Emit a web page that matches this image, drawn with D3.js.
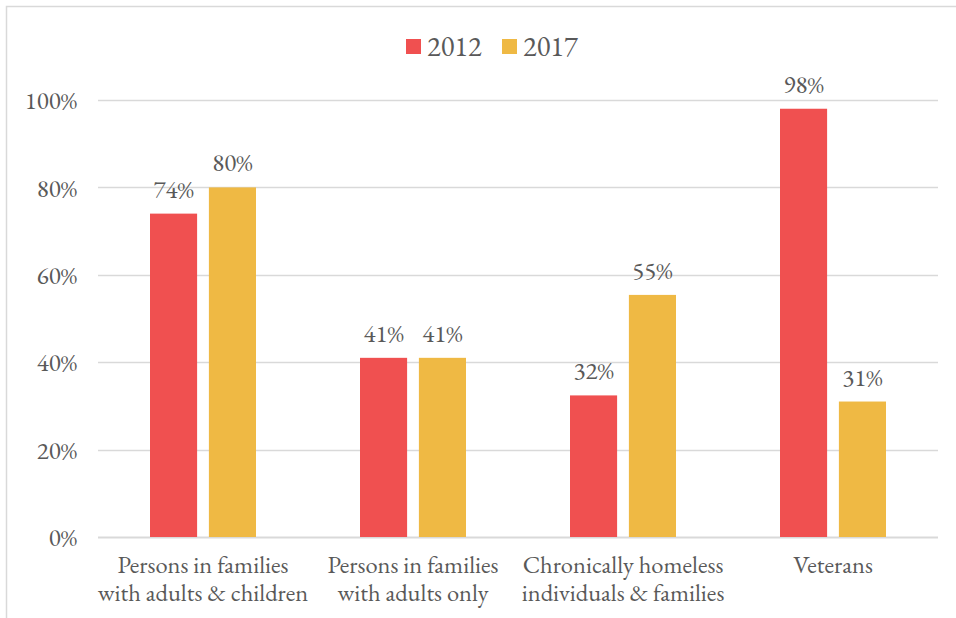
<!DOCTYPE html>
<html>
<head>
<meta charset="utf-8">
<script src="https://cdn.jsdelivr.net/npm/d3@7"></script>
<style>
  body { margin: 0; background: #fff; }
</style>
</head>
<body>
<div id="chart"></div>
<script>
var categories = [
  ["Persons in families", "with adults & children"],
  ["Persons in families", "with adults only"],
  ["Chronically homeless", "individuals & families"],
  ["Veterans"]
];
var seriesNames = ["2012", "2017"];
var values2012 = [74, 41, 32.4, 98];
var values2017 = [80, 41, 55.4, 31];
var colors = ["#f05050", "#efb944"];
var yTicks = [0, 20, 40, 60, 80, 100];

var FONT = '"EB Garamond", "Liberation Serif", serif';
var TEXT = '#595959';

var width = 956, height = 618;
var margin = { top: 100, right: 18, bottom: 81, left: 98 };
var innerW = width - margin.left - margin.right;
var innerH = height - margin.top - margin.bottom;

var svg = d3.select('#chart')
  .append('svg')
  .attr('width', width)
  .attr('height', height);

// chart border (top and left visible)
svg.append('path')
  .attr('d', 'M6.5,' + height + 'V6.5H' + width)
  .attr('fill', 'none')
  .attr('stroke', '#d9d9d9')
  .attr('stroke-width', 1.5);

var g = svg.append('g')
  .attr('transform', 'translate(' + margin.left + ',' + margin.top + ')');

var x = d3.scaleBand()
  .domain(d3.range(categories.length))
  .range([0, innerW]);

var xInner = d3.scaleBand()
  .domain(seriesNames)
  .range([x.bandwidth() / 2 - 53, x.bandwidth() / 2 + 53])
  .paddingInner(0.2);

var y = d3.scaleLinear()
  .domain([0, 100])
  .range([innerH, 0]);

// gridlines
g.selectAll('.grid')
  .data(yTicks)
  .enter().append('line')
  .attr('class', 'grid')
  .attr('x1', 0)
  .attr('x2', innerW)
  .attr('y1', function(d) { return Math.round(y(d)) + 0.5; })
  .attr('y2', function(d) { return Math.round(y(d)) + 0.5; })
  .attr('stroke', '#d9d9d9')
  .attr('stroke-width', function(d) { return d === 0 ? 2 : 1.5; });

// y axis labels
var yAxis = g.append('g')
  .call(d3.axisLeft(y).tickValues(yTicks).tickSize(0).tickPadding(21)
    .tickFormat(function(d) { return d + '%'; }));
yAxis.select('.domain').remove();
yAxis.selectAll('text')
  .attr('dy', '0.35em')
  .style('font-size', '25px')
  .style('font-family', FONT)
  .style('fill', TEXT);

var data = [];
categories.forEach(function(c, i) {
  data.push({ cat: i, series: seriesNames[0], value: values2012[i], color: colors[0] });
  data.push({ cat: i, series: seriesNames[1], value: values2017[i], color: colors[1] });
});

g.selectAll('.bar')
  .data(data)
  .enter().append('rect')
  .attr('class', 'bar')
  .attr('x', function(d) { return x(d.cat) + xInner(d.series); })
  .attr('width', xInner.bandwidth())
  .attr('y', function(d) { return y(d.value); })
  .attr('height', function(d) { return innerH - y(d.value); })
  .attr('fill', function(d) { return d.color; });

g.selectAll('.bar-label')
  .data(data)
  .enter().append('text')
  .attr('class', 'bar-label')
  .attr('x', function(d) { return x(d.cat) + xInner(d.series) + xInner.bandwidth() / 2; })
  .attr('y', function(d) { return y(d.value) - 16; })
  .attr('text-anchor', 'middle')
  .style('font-size', '25px')
  .style('font-family', FONT)
  .style('fill', TEXT)
  .text(function(d) { return Math.round(d.value) + '%'; });

// category labels
var catLabels = g.selectAll('.cat')
  .data(categories)
  .enter().append('text')
  .attr('class', 'cat')
  .attr('text-anchor', 'middle')
  .style('font-size', '24.5px')
  .style('font-family', FONT)
  .style('fill', TEXT)
  .attr('transform', function(d, i) {
    return 'translate(' + (x(i) + x.bandwidth() / 2) + ',' + (innerH + 36) + ')';
  });
catLabels.selectAll('tspan')
  .data(function(d) { return d; })
  .enter().append('tspan')
  .attr('x', 0)
  .attr('dy', function(d, i) { return i === 0 ? 0 : 28; })
  .text(function(d) { return d; });

// legend
var legend = svg.append('g')
  .attr('transform', 'translate(406,46)');
var legendX = [0, 96];
var items = legend.selectAll('.legend-item')
  .data(seriesNames)
  .enter().append('g')
  .attr('class', 'legend-item')
  .attr('transform', function(d, i) { return 'translate(' + legendX[i] + ',0)'; });
items.append('rect')
  .attr('x', 0)
  .attr('y', -7)
  .attr('width', 15)
  .attr('height', 15)
  .attr('fill', function(d, i) { return colors[i]; });
items.append('text')
  .attr('x', 21)
  .attr('y', 0)
  .attr('dy', '0.35em')
  .style('font-size', '28.5px')
  .style('font-family', FONT)
  .style('fill', TEXT)
  .text(function(d) { return d; });
</script>
</body>
</html>
